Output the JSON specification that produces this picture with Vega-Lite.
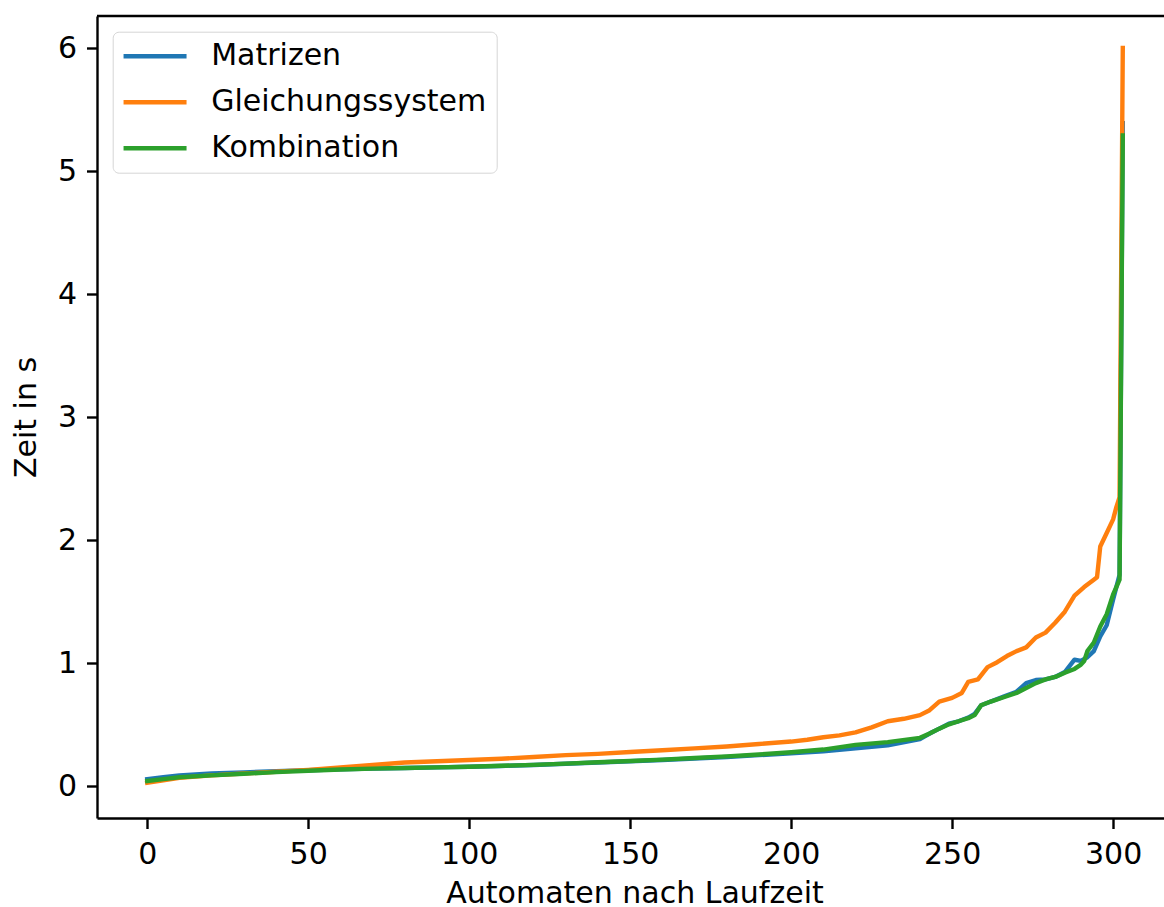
{
  "$schema": "https://vega.github.io/schema/vega-lite/v6.json",
  "autosize": {"type": "none"},
  "padding": {"left": 97, "top": 16, "right": 0, "bottom": 89},
  "width": 1067,
  "height": 802,
  "background": "white",
  "config": {
    "view": {"stroke": null},
    "font": "DejaVu Sans",
    "axis": {
      "labelFont": "DejaVu Sans",
      "labelFontSize": 30,
      "labelColor": "black",
      "titleFont": "DejaVu Sans",
      "titleFontSize": 30,
      "titleFontWeight": "normal",
      "titleColor": "black",
      "domainColor": "black",
      "domainWidth": 2.4,
      "tickColor": "black",
      "tickWidth": 2.4,
      "tickSize": 10.5,
      "grid": false
    }
  },
  "datasets": {
    "rows": [
      {"i":0,"t":0.06,"s":"Matrizen"},{"i":5,"t":0.075,"s":"Matrizen"},{"i":10,"t":0.09,"s":"Matrizen"},{"i":20,"t":0.105,"s":"Matrizen"},{"i":30,"t":0.115,"s":"Matrizen"},{"i":40,"t":0.125,"s":"Matrizen"},{"i":50,"t":0.132,"s":"Matrizen"},{"i":60,"t":0.14,"s":"Matrizen"},{"i":70,"t":0.145,"s":"Matrizen"},{"i":80,"t":0.15,"s":"Matrizen"},{"i":90,"t":0.155,"s":"Matrizen"},{"i":100,"t":0.16,"s":"Matrizen"},{"i":110,"t":0.167,"s":"Matrizen"},{"i":120,"t":0.175,"s":"Matrizen"},{"i":130,"t":0.185,"s":"Matrizen"},{"i":140,"t":0.195,"s":"Matrizen"},{"i":150,"t":0.205,"s":"Matrizen"},{"i":160,"t":0.215,"s":"Matrizen"},{"i":170,"t":0.228,"s":"Matrizen"},{"i":180,"t":0.24,"s":"Matrizen"},{"i":190,"t":0.255,"s":"Matrizen"},{"i":200,"t":0.27,"s":"Matrizen"},{"i":210,"t":0.285,"s":"Matrizen"},{"i":220,"t":0.31,"s":"Matrizen"},{"i":230,"t":0.335,"s":"Matrizen"},{"i":240,"t":0.385,"s":"Matrizen"},{"i":243,"t":0.43,"s":"Matrizen"},{"i":246,"t":0.47,"s":"Matrizen"},{"i":249,"t":0.51,"s":"Matrizen"},{"i":252,"t":0.53,"s":"Matrizen"},{"i":255,"t":0.56,"s":"Matrizen"},{"i":257,"t":0.59,"s":"Matrizen"},{"i":259,"t":0.66,"s":"Matrizen"},{"i":262,"t":0.69,"s":"Matrizen"},{"i":266,"t":0.73,"s":"Matrizen"},{"i":270,"t":0.77,"s":"Matrizen"},{"i":273,"t":0.84,"s":"Matrizen"},{"i":276,"t":0.865,"s":"Matrizen"},{"i":279,"t":0.87,"s":"Matrizen"},{"i":282,"t":0.89,"s":"Matrizen"},{"i":285,"t":0.93,"s":"Matrizen"},{"i":288,"t":1.03,"s":"Matrizen"},{"i":290,"t":1.02,"s":"Matrizen"},{"i":292,"t":1.05,"s":"Matrizen"},{"i":294,"t":1.1,"s":"Matrizen"},{"i":296,"t":1.22,"s":"Matrizen"},{"i":298,"t":1.31,"s":"Matrizen"},{"i":300,"t":1.52,"s":"Matrizen"},{"i":301,"t":1.62,"s":"Matrizen"},{"i":302,"t":1.72,"s":"Matrizen"},{"i":303,"t":5.39,"s":"Matrizen"},
      {"i":0,"t":0.03,"s":"Gleichungssystem"},{"i":5,"t":0.05,"s":"Gleichungssystem"},{"i":10,"t":0.07,"s":"Gleichungssystem"},{"i":20,"t":0.09,"s":"Gleichungssystem"},{"i":30,"t":0.105,"s":"Gleichungssystem"},{"i":40,"t":0.12,"s":"Gleichungssystem"},{"i":50,"t":0.135,"s":"Gleichungssystem"},{"i":60,"t":0.155,"s":"Gleichungssystem"},{"i":70,"t":0.175,"s":"Gleichungssystem"},{"i":80,"t":0.195,"s":"Gleichungssystem"},{"i":90,"t":0.205,"s":"Gleichungssystem"},{"i":100,"t":0.215,"s":"Gleichungssystem"},{"i":110,"t":0.225,"s":"Gleichungssystem"},{"i":120,"t":0.24,"s":"Gleichungssystem"},{"i":130,"t":0.255,"s":"Gleichungssystem"},{"i":140,"t":0.265,"s":"Gleichungssystem"},{"i":150,"t":0.28,"s":"Gleichungssystem"},{"i":160,"t":0.295,"s":"Gleichungssystem"},{"i":170,"t":0.31,"s":"Gleichungssystem"},{"i":180,"t":0.325,"s":"Gleichungssystem"},{"i":190,"t":0.345,"s":"Gleichungssystem"},{"i":200,"t":0.365,"s":"Gleichungssystem"},{"i":205,"t":0.38,"s":"Gleichungssystem"},{"i":210,"t":0.4,"s":"Gleichungssystem"},{"i":215,"t":0.415,"s":"Gleichungssystem"},{"i":220,"t":0.44,"s":"Gleichungssystem"},{"i":225,"t":0.48,"s":"Gleichungssystem"},{"i":230,"t":0.53,"s":"Gleichungssystem"},{"i":235,"t":0.55,"s":"Gleichungssystem"},{"i":240,"t":0.58,"s":"Gleichungssystem"},{"i":243,"t":0.62,"s":"Gleichungssystem"},{"i":246,"t":0.69,"s":"Gleichungssystem"},{"i":250,"t":0.72,"s":"Gleichungssystem"},{"i":253,"t":0.76,"s":"Gleichungssystem"},{"i":255,"t":0.85,"s":"Gleichungssystem"},{"i":258,"t":0.87,"s":"Gleichungssystem"},{"i":261,"t":0.97,"s":"Gleichungssystem"},{"i":264,"t":1.01,"s":"Gleichungssystem"},{"i":267,"t":1.06,"s":"Gleichungssystem"},{"i":270,"t":1.1,"s":"Gleichungssystem"},{"i":273,"t":1.13,"s":"Gleichungssystem"},{"i":276,"t":1.21,"s":"Gleichungssystem"},{"i":279,"t":1.25,"s":"Gleichungssystem"},{"i":282,"t":1.33,"s":"Gleichungssystem"},{"i":285,"t":1.42,"s":"Gleichungssystem"},{"i":288,"t":1.55,"s":"Gleichungssystem"},{"i":291,"t":1.62,"s":"Gleichungssystem"},{"i":294,"t":1.68,"s":"Gleichungssystem"},{"i":295,"t":1.7,"s":"Gleichungssystem"},{"i":296,"t":1.95,"s":"Gleichungssystem"},{"i":298,"t":2.06,"s":"Gleichungssystem"},{"i":300,"t":2.17,"s":"Gleichungssystem"},{"i":301,"t":2.27,"s":"Gleichungssystem"},{"i":302,"t":2.35,"s":"Gleichungssystem"},{"i":303,"t":6.0,"s":"Gleichungssystem"},
      {"i":0,"t":0.045,"s":"Kombination"},{"i":5,"t":0.06,"s":"Kombination"},{"i":10,"t":0.075,"s":"Kombination"},{"i":20,"t":0.09,"s":"Kombination"},{"i":30,"t":0.103,"s":"Kombination"},{"i":40,"t":0.117,"s":"Kombination"},{"i":50,"t":0.128,"s":"Kombination"},{"i":60,"t":0.138,"s":"Kombination"},{"i":70,"t":0.145,"s":"Kombination"},{"i":80,"t":0.15,"s":"Kombination"},{"i":90,"t":0.155,"s":"Kombination"},{"i":100,"t":0.16,"s":"Kombination"},{"i":110,"t":0.168,"s":"Kombination"},{"i":120,"t":0.176,"s":"Kombination"},{"i":130,"t":0.186,"s":"Kombination"},{"i":140,"t":0.197,"s":"Kombination"},{"i":150,"t":0.207,"s":"Kombination"},{"i":160,"t":0.218,"s":"Kombination"},{"i":170,"t":0.232,"s":"Kombination"},{"i":180,"t":0.245,"s":"Kombination"},{"i":190,"t":0.26,"s":"Kombination"},{"i":200,"t":0.278,"s":"Kombination"},{"i":210,"t":0.3,"s":"Kombination"},{"i":220,"t":0.338,"s":"Kombination"},{"i":230,"t":0.36,"s":"Kombination"},{"i":240,"t":0.395,"s":"Kombination"},{"i":243,"t":0.43,"s":"Kombination"},{"i":246,"t":0.47,"s":"Kombination"},{"i":249,"t":0.505,"s":"Kombination"},{"i":252,"t":0.53,"s":"Kombination"},{"i":255,"t":0.555,"s":"Kombination"},{"i":257,"t":0.58,"s":"Kombination"},{"i":259,"t":0.66,"s":"Kombination"},{"i":262,"t":0.69,"s":"Kombination"},{"i":266,"t":0.725,"s":"Kombination"},{"i":270,"t":0.76,"s":"Kombination"},{"i":273,"t":0.8,"s":"Kombination"},{"i":276,"t":0.84,"s":"Kombination"},{"i":279,"t":0.87,"s":"Kombination"},{"i":282,"t":0.89,"s":"Kombination"},{"i":285,"t":0.925,"s":"Kombination"},{"i":288,"t":0.955,"s":"Kombination"},{"i":290,"t":0.99,"s":"Kombination"},{"i":291,"t":1.02,"s":"Kombination"},{"i":292,"t":1.1,"s":"Kombination"},{"i":294,"t":1.17,"s":"Kombination"},{"i":296,"t":1.3,"s":"Kombination"},{"i":298,"t":1.4,"s":"Kombination"},{"i":300,"t":1.56,"s":"Kombination"},{"i":301,"t":1.62,"s":"Kombination"},{"i":302,"t":1.68,"s":"Kombination"},{"i":303,"t":5.29,"s":"Kombination"}
    ],
    "top": [{"v": 6.26}]
  },
  "layer": [
    {
      "data": {"name": "rows"},
      "mark": {"type": "line", "strokeWidth": 4.4, "strokeJoin": "round", "strokeCap": "square"},
      "encoding": {
        "x": {
          "field": "i", "type": "quantitative",
          "scale": {"domain": [-15.6, 315.8], "nice": false, "zero": false},
          "axis": {
            "title": "Automaten nach Laufzeit",
            "values": [0, 50, 100, 150, 200, 250, 300],
            "labelPadding": 11,
            "labelFlush": false,
            "labelOverlap": false,
            "titleX": 537.5,
            "titleY": 84,
            "titleBaseline": "alphabetic",
            "titleAnchor": null
          }
        },
        "y": {
          "field": "t", "type": "quantitative",
          "scale": {"domain": [-0.256, 6.26], "nice": false, "zero": false},
          "axis": {
            "title": "Zeit in s",
            "format": "d",
            "values": [0, 1, 2, 3, 4, 5, 6],
            "labelPadding": 10,
            "labelFlush": false,
            "labelOverlap": false,
            "titleX": -62,
            "titleY": 401,
            "titleAngle": -90,
            "titleAlign": "center",
            "titleBaseline": "alphabetic"
          }
        },
        "color": {
          "field": "s", "type": "nominal",
          "sort": null,
          "scale": {
            "domain": ["Matrizen", "Gleichungssystem", "Kombination"],
            "range": ["#1f77b4", "#ff7f0e", "#2ca02c"]
          },
          "legend": {
            "title": null,
            "orient": "none",
            "legendX": 15.7,
            "legendY": 15.7,
            "symbolType": "M-1.3,0H4.7",
            "symbolSize": 441,
            "symbolStrokeWidth": 4.4,
            "symbolFillColor": "transparent",
            "labelFont": "DejaVu Sans",
            "labelFontSize": 30,
            "labelColor": "black",
            "labelLimit": 600,
            "labelOffset": 59,
            "rowPadding": 16,
            "padding": 9.5,
            "strokeColor": "#d6d6d6",
            "fillColor": "white",
            "cornerRadius": 6
          }
        }
      }
    },
    {
      "data": {"name": "top"},
      "mark": {"type": "rule", "color": "black", "strokeWidth": 2.4},
      "encoding": {"y": {"field": "v", "type": "quantitative"}}
    }
  ]
}
